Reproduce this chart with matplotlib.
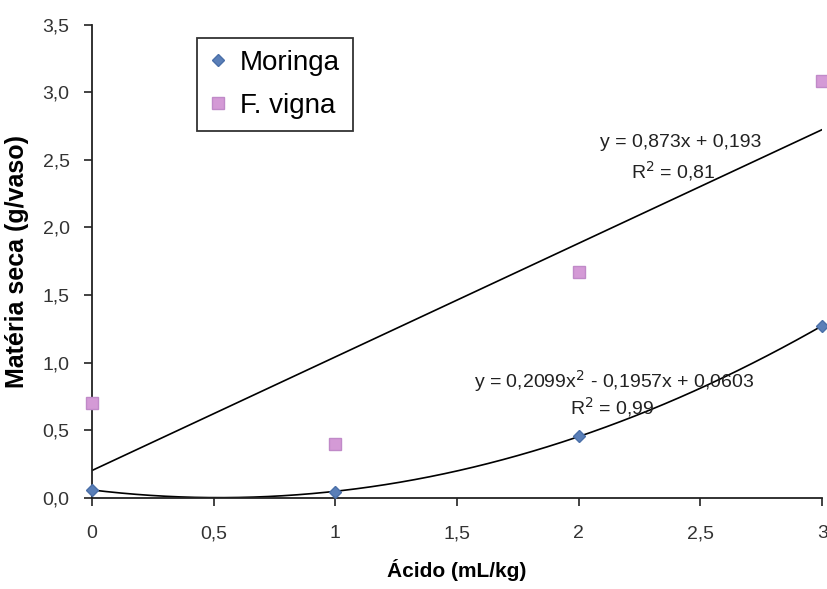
import numpy as np
import matplotlib
matplotlib.use("Agg")
import matplotlib.pyplot as plt

plt.rcParams['font.family'] = ['Liberation Sans', 'DejaVu Sans']

# dados
acido = [0, 1, 2, 3]
moringa = [0.06, 0.04, 0.46, 1.27]
vigna = [0.70, 0.40, 1.67, 3.08]

xticks = [0, 0.5, 1, 1.5, 2, 2.5, 3]
xtick_labels = ["0", "0,5", "1", "1,5", "2", "2,5", "3"]
yticks = [0.0, 0.5, 1.0, 1.5, 2.0, 2.5, 3.0, 3.5]
ytick_labels = ["0,0", "0,5", "1,0", "1,5", "2,0", "2,5", "3,0", "3,5"]

eq_vigna = ["y = 0,873x + 0,193", "R$^2$ = 0,81"]
eq_moringa = ["y = 0,2099x$^2$ - 0,1957x + 0,0603", "R$^2$ = 0,99"]

fig = plt.figure(figsize=(8.28, 5.89), dpi=100)
ax = fig.add_axes([0.111, 0.155, 0.882, 0.803])

# linhas de tendencia ajustadas aos pontos
xx = np.linspace(0, 3, 200)
ax.plot(xx, np.polyval(np.polyfit(acido, vigna, 1), xx), color="black", lw=1.2, zorder=2)
ax.plot(xx, np.polyval(np.polyfit(acido, moringa, 2), xx), color="black", lw=1.2, zorder=2)

ax.plot(acido, moringa, "D", color="#5a7fb8", ms=6.5, mec="#4a6fa8",
        label="Moringa", zorder=3, clip_on=False)
ax.plot(acido, vigna, "s", color="#d49ad6", ms=8, mec="#c08ac8",
        label="F. vigna", zorder=3, clip_on=False)

ax.set_xlim(0, 3)
ax.set_ylim(0, 3.5)
ax.set_xticks(xticks)
ax.set_xticklabels(xtick_labels)
ax.set_yticks(yticks)
ax.set_yticklabels(ytick_labels)
ax.tick_params(labelsize=14, length=6, width=1.2, color="#222222",
               labelcolor="#333333")
ax.tick_params(axis="x", pad=14)
ax.tick_params(axis="y", pad=10)
for s in ["top", "right"]:
    ax.spines[s].set_visible(False)
for s in ["left", "bottom"]:
    ax.spines[s].set_linewidth(1.3)
    ax.spines[s].set_color("#222222")

ax.set_xlabel("Ácido (mL/kg)", fontsize=15, fontweight="bold", labelpad=12)
ax.set_ylabel("Matéria seca (g/vaso)", fontsize=18, fontweight="bold", labelpad=10)

ax.text(2.42, 2.63, eq_vigna[0], fontsize=14, ha="center", va="center", color="#222222")
ax.text(2.39, 2.42, eq_vigna[1], fontsize=14, ha="center", va="center", color="#222222")
ax.text(2.145, 0.86, eq_moringa[0], fontsize=14, ha="center", va="center", color="#222222")
ax.text(2.14, 0.67, eq_moringa[1], fontsize=14, ha="center", va="center", color="#222222")

leg = ax.legend(loc="upper left", bbox_to_anchor=(0.144, 0.973), fontsize=20,
                frameon=True, fancybox=False, edgecolor="black", handlelength=0.6,
                handletextpad=0.5, borderpad=0.45, labelspacing=0.6, borderaxespad=0)
leg.get_frame().set_linewidth(1.3)

fig.savefig("out.png", dpi=100)
